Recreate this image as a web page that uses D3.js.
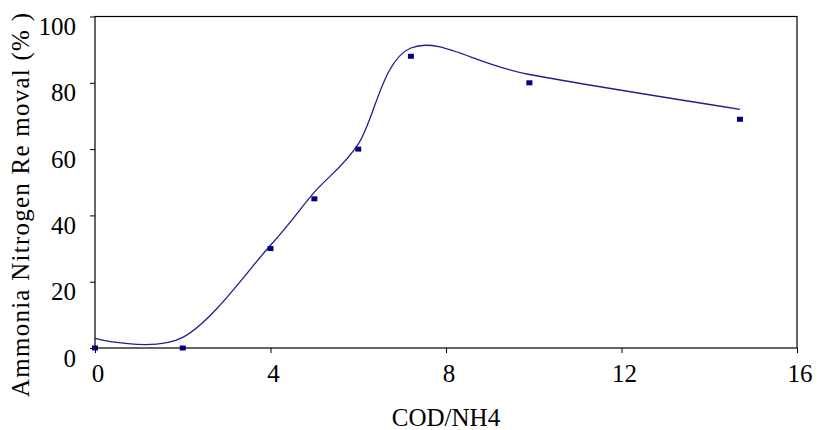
<!DOCTYPE html>
<html>
<head>
<meta charset="utf-8">
<script src="https://cdn.jsdelivr.net/npm/d3@7"></script>
<style>
  body { margin: 0; background: #fff; }
  svg { display: block; }
</style>
</head>
<body>
<svg></svg>
<script>
const width = 819;
const height = 430;
const serif = "'Liberation Serif', 'Times New Roman', serif";

// measured points
const ratio = [0, 2, 4, 5, 6, 7.2, 9.9, 14.7];
const removal = [0, 0, 30, 45, 60, 88, 80, 69];

// smoothed trend curve drawn through the same ratios
const fitRatio = [0, 2, 4, 5, 6, 7.2, 9.9, 14.7];
const fitRemoval = [2.9, 3.2, 31, 47, 61.5, 90.5, 82.5, 72];

const xTicks = [0, 4, 8, 12, 16];
const yTicks = [0, 20, 40, 60, 80, 100];

const plot = { left: 95, right: 797, top: 16.5, bottom: 348 };

const svg = d3.select("svg").attr("width", width).attr("height", height);

const x = d3.scaleLinear().domain([0, 16]).range([plot.left, plot.right]);
const y = d3.scaleLinear().domain([0, 100]).range([plot.bottom, plot.top]);

// frame
svg
  .append("rect")
  .attr("x", plot.left)
  .attr("y", plot.top)
  .attr("width", plot.right - plot.left)
  .attr("height", plot.bottom - plot.top)
  .attr("fill", "none")
  .attr("stroke", "#000")
  .attr("stroke-width", 1.2);

// x axis
const xAxis = svg
  .append("g")
  .attr("transform", `translate(0,${plot.bottom})`)
  .call(d3.axisBottom(x).tickValues(xTicks).tickSize(5).tickPadding(12).tickFormat(d3.format("d")));
xAxis.select(".domain").remove();
xAxis.selectAll("line").attr("stroke", "#000");
xAxis
  .selectAll("text")
  .style("font-family", serif)
  .style("font-size", "25px")
  .attr("fill", "#000")
  .attr("dx", 2.5)
  .attr("dy", "0.68em");

// y axis
const yAxis = svg
  .append("g")
  .attr("transform", `translate(${plot.left},0)`)
  .call(d3.axisLeft(y).tickValues(yTicks).tickSize(5).tickPadding(14).tickFormat(d3.format("d")));
yAxis.select(".domain").remove();
yAxis.selectAll("line").attr("stroke", "#000");
yAxis
  .selectAll("text")
  .style("font-family", serif)
  .style("font-size", "25px")
  .attr("fill", "#000")
  .attr("dy", "0.72em");

// trend curve
const fit = fitRatio.map((d, i) => [d, fitRemoval[i]]);
const line = d3
  .line()
  .x((d) => x(d[0]))
  .y((d) => y(d[1]))
  .curve(d3.curveCardinal.tension(0));

svg
  .append("path")
  .attr("d", line(fit))
  .attr("fill", "none")
  .attr("stroke", "#1f1f8f")
  .attr("stroke-width", 1.3);

// markers
svg
  .append("g")
  .selectAll("rect")
  .data(ratio.map((d, i) => [d, removal[i]]))
  .enter()
  .append("rect")
  .attr("x", (d) => x(d[0]) - 3)
  .attr("y", (d) => y(d[1]) - 2.5)
  .attr("width", 6)
  .attr("height", 5)
  .attr("fill", "#000080");

// axis titles
svg
  .append("text")
  .attr("x", (plot.left + plot.right) / 2)
  .attr("y", 426)
  .attr("text-anchor", "middle")
  .style("font-family", serif)
  .style("font-size", "25px")
  .text("COD/NH4");

svg
  .append("text")
  .attr("transform", "translate(29,205) rotate(-90)")
  .attr("text-anchor", "middle")
  .style("font-family", serif)
  .style("font-size", "25px")
  .attr("textLength", 384)
  .attr("lengthAdjust", "spacing")
  .text("Ammonia Nitrogen Re moval (% )");
</script>
</body>
</html>
